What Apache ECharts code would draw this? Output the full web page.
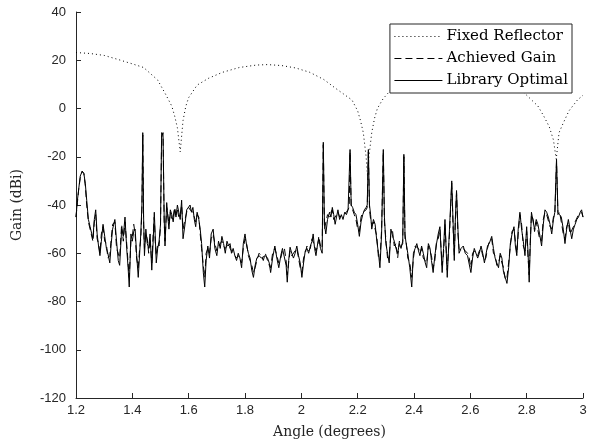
<!DOCTYPE html>
<html><head><meta charset="utf-8">
<script src="https://cdn.jsdelivr.net/npm/echarts@6/dist/echarts.min.js"></script>
<style>html,body{margin:0;padding:0;background:#fff}#c{width:590px;height:445px}</style>
</head><body><div id="c"></div>
<script>
const xTicks = [1.2,1.4,1.6,1.8,2,2.2,2.4,2.6,2.8,3];
const yTicks = [-120,-100,-80,-60,-40,-20,0,20,40];
const seriesNames = ['Fixed Reflector','Achieved Gain','Library Optimal'];

const fixedAngle = [1.20,1.25,1.30,1.35,1.40,1.44,1.49,1.52,1.54,1.55,1.56,1.57,1.58,1.59,1.60,1.63,1.67,1.72,1.78,1.84,1.88,1.93,1.98,2.03,2.08,2.12,2.15,2.18,2.20,2.21,2.22,2.23,2.235,2.24,2.25,2.26,2.27,2.29,2.32,2.36,2.42,2.50,2.58,2.66,2.72,2.76,2.80,2.84,2.86,2.88,2.895,2.905,2.915,2.93,2.95,2.98,3.00];
const fixedGain  = [23.2,22.8,22,20.3,18.5,17,11.8,5.5,1,-3,-8,-18,-5,1,4.5,9.7,12.5,15,17,18,18.2,17.8,16.8,15,12,8.5,6,3.5,-1,-5,-10,-20,-28,-20,-10,-4,0,4,8,12,15.5,17.5,18,17,13,9.5,5.5,1,-3,-7.5,-13,-21,-10,-6,-1,3.5,5.5];

const angle = [1.200,1.205,1.210,1.215,1.222,1.228,1.233,1.238,1.244,1.250,1.256,1.260,1.265,1.270,1.275,1.280,1.285,1.290,1.296,1.302,1.308,1.313,1.320,1.325,1.330,1.338,1.344,1.350,1.355,1.362,1.368,1.374,1.380,1.385,1.389,1.395,1.400,1.405,1.410,1.415,1.421,1.426,1.430,1.434,1.437,1.440,1.443,1.448,1.453,1.458,1.463,1.469,1.474,1.478,1.482,1.485,1.490,1.495,1.500,1.504,1.509,1.513,1.516,1.522,1.526,1.530,1.535,1.540,1.545,1.550,1.555,1.560,1.565,1.570,1.575,1.580,1.587,1.593,1.600,1.605,1.610,1.615,1.620,1.625,1.630,1.636,1.641,1.646,1.652,1.657,1.662,1.668,1.674,1.680,1.687,1.693,1.700,1.706,1.712,1.718,1.724,1.730,1.736,1.742,1.747,1.752,1.758,1.764,1.770,1.776,1.782,1.788,1.794,1.800,1.806,1.812,1.818,1.824,1.830,1.836,1.842,1.850,1.858,1.865,1.872,1.880,1.886,1.891,1.898,1.906,1.913,1.920,1.927,1.933,1.940,1.946,1.950,1.955,1.960,1.966,1.972,1.978,1.984,1.990,1.996,2.002,2.008,2.014,2.020,2.026,2.032,2.038,2.042,2.047,2.052,2.058,2.062,2.068,2.074,2.078,2.082,2.087,2.093,2.100,2.105,2.110,2.115,2.120,2.125,2.130,2.136,2.142,2.148,2.154,2.160,2.166,2.170,2.173,2.177,2.182,2.188,2.194,2.200,2.206,2.212,2.218,2.224,2.230,2.234,2.238,2.242,2.246,2.250,2.256,2.262,2.268,2.274,2.279,2.285,2.291,2.295,2.300,2.306,2.312,2.318,2.324,2.330,2.336,2.342,2.348,2.354,2.360,2.364,2.368,2.372,2.378,2.385,2.392,2.398,2.404,2.410,2.416,2.421,2.427,2.433,2.440,2.445,2.451,2.457,2.462,2.468,2.474,2.480,2.486,2.492,2.500,2.505,2.510,2.518,2.526,2.534,2.539,2.543,2.547,2.551,2.556,2.560,2.567,2.575,2.582,2.590,2.596,2.602,2.608,2.614,2.620,2.626,2.632,2.638,2.644,2.650,2.655,2.661,2.667,2.676,2.682,2.688,2.694,2.700,2.706,2.712,2.718,2.724,2.730,2.736,2.742,2.748,2.755,2.760,2.765,2.770,2.776,2.782,2.788,2.794,2.800,2.805,2.809,2.813,2.817,2.823,2.828,2.834,2.840,2.846,2.853,2.859,2.865,2.871,2.877,2.883,2.889,2.895,2.900,2.906,2.911,2.917,2.923,2.930,2.936,2.942,2.948,2.954,2.960,2.966,2.972,2.978,2.984,2.990,2.995,3.000];

const libraryOptimal = [-45,-38,-33,-28,-26,-27,-31,-38,-46,-49,-52,-54,-46,-42,-52,-57,-61,-55,-48,-53,-58,-60,-64,-56,-50,-46,-55,-63,-65,-50,-53,-45,-58,-66,-74,-52,-55,-51,-50,-60,-70,-60,-52,-40,-10,-45,-61,-50,-56,-58,-52,-67,-55,-43,-55,-64,-58,-55,-48,-10,-11,-45,-57,-39,-45,-50,-42,-44,-47,-42,-45,-40,-43,-46,-38,-54,-48,-42,-42,-40,-43,-41,-46,-49,-43,-46,-50,-56,-68,-74,-63,-57,-62,-52,-50,-58,-61,-55,-58,-53,-56,-60,-55,-57,-56,-60,-58,-61,-63,-60,-62,-66,-56,-52,-57,-60,-62,-67,-70,-65,-62,-61,-62,-62,-61,-62,-64,-68,-62,-57,-62,-66,-61,-58,-57.5,-65,-72,-63,-57.5,-60,-62,-60,-57,-61,-64,-70,-64,-59,-58,-60,-57,-55,-52,-58,-61,-56,-54,-58,-60,-14,-48,-52,-46,-43,-45,-41,-44,-48,-45,-42,-46,-44,-46,-43,-44,-42,-42,-17,-40,-41,-43,-44,-48,-53,-47,-44,-42,-41,-40,-17,-40,-44,-50,-46,-48,-55,-60,-66,-52,-17,-45,-56,-60,-64,-50,-53,-55,-58,-60,-56,-58,-55,-19,-52,-56,-60,-66,-74,-60,-58,-56,-59,-61,-57,-60,-64,-66,-56,-58,-63,-68,-61,-56,-52,-49,-68,-58,-46,-70,-50,-30,-48,-63,-45,-34,-50,-60,-58,-57,-60,-61,-61,-68,-62,-58,-58,-62,-60,-57,-60,-64,-64,-57,-56,-53,-58,-62,-64,-66,-60,-62,-68,-70,-72.5,-66,-56,-52,-49,-57,-61,-50,-43,-50,-55,-61,-49,-60,-72,-56,-43,-47,-50,-46,-48,-52,-57,-48,-42,-43,-45,-48,-52,-46,-43,-21,-43,-44,-45,-50,-56,-50,-46,-50,-54,-50,-48,-46,-45,-43,-42,-45];

const achievedGain = [-45,-39,-33,-29,-26,-27,-32,-40,-47,-50,-50,-55,-47,-44,-54,-56,-60,-52,-49,-55,-56,-62,-61,-54,-48,-47,-58,-60,-62,-48,-55,-47,-56,-64,-70,-55,-53,-48,-52,-62,-66,-58,-54,-42,-11,-48,-58,-52,-54,-60,-54,-64,-52,-45,-57,-61,-56,-57,-49,-12,-10,-47,-55,-41,-44,-48,-43,-46,-45,-41,-44,-42,-45,-44,-40,-50,-46,-43,-41,-42,-42,-43,-45,-47,-44,-45,-52,-58,-65,-70,-60,-58,-60,-54,-52,-56,-59,-57,-56,-55,-57,-58,-57,-56,-58,-59,-60,-60,-62,-61,-61,-64,-58,-54,-56,-61,-63,-65,-68,-66,-63,-60,-61,-63,-60,-63,-65,-66,-60,-58,-61,-64,-62,-59,-58,-63,-69,-64,-59,-61,-61,-59,-58,-62,-66,-68,-62,-60,-57,-59,-58,-54,-54,-57,-59,-57,-53,-57,-58,-15,-50,-50,-44,-45,-43,-42,-46,-46,-44,-43,-45,-45,-44,-44,-43,-43,-41,-18,-41,-42,-44,-46,-50,-51,-45,-43,-43,-42,-41,-18,-42,-46,-48,-47,-50,-53,-62,-63,-50,-18,-47,-54,-62,-61,-52,-51,-57,-56,-62,-55,-57,-56,-20,-54,-55,-62,-64,-70,-62,-57,-57,-58,-60,-58,-62,-62,-64,-57,-57,-61,-66,-63,-55,-54,-50,-65,-60,-48,-67,-52,-31,-50,-61,-46,-35,-52,-58,-59,-58,-59,-60,-62,-66,-60,-59,-60,-61,-59,-58,-61,-63,-62,-58,-55,-54,-60,-61,-65,-64,-61,-64,-66,-71,-70,-64,-57,-51,-50,-55,-60,-52,-44,-48,-57,-59,-51,-62,-69,-54,-44,-46,-51,-47,-47,-54,-55,-46,-43,-44,-44,-49,-50,-45,-44,-22,-44,-43,-47,-52,-54,-49,-47,-52,-52,-49,-47,-47,-44,-44,-43,-45];

const zip = (xs, ys) => xs.map((x, i) => [x, ys[i]]);
const axisColor = '#262626';
const chart = echarts.init(document.getElementById('c'), null, {renderer: 'canvas'});
chart.setOption({
  animation: false,
  backgroundColor: '#fff',
  grid: {left: 76, right: 7, top: 12, bottom: 47, containLabel: false},
  legend: {
    right: 18, top: 24, orient: 'vertical',
    data: seriesNames,
    itemWidth: 48, itemHeight: 10, itemGap: 7,
    padding: [5, 4, 5, 4],
    itemStyle: {opacity: 0},
    lineStyle: {width: 1},
    backgroundColor: '#fff', borderColor: axisColor, borderWidth: 1,
    textStyle: {fontFamily: 'DejaVu Serif', fontSize: 15, color: '#000', padding: [0,0,0,-1]}
  },
  xAxis: {
    type: 'value', min: 1.2, max: 3, interval: 0.2,
    axisLine: {show: true, onZero: false, lineStyle: {color: axisColor, width: 1}},
    axisTick: {show: true, inside: true, length: 5, lineStyle: {color: axisColor}},
    splitLine: {show: false},
    axisLabel: {color: axisColor, fontFamily: 'Liberation Sans', fontSize: 13, margin: 6,
      formatter: v => String(Math.round(v * 10) / 10)},
    name: 'Angle (degrees)', nameLocation: 'middle', nameGap: 27,
    nameTextStyle: {fontFamily: 'DejaVu Serif', fontSize: 14, color: axisColor}
  },
  yAxis: {
    type: 'value', min: -120, max: 40, interval: 20,
    axisLine: {show: true, onZero: false, lineStyle: {color: axisColor, width: 1}},
    axisTick: {show: true, inside: true, length: 5, lineStyle: {color: axisColor}},
    splitLine: {show: false},
    axisLabel: {color: axisColor, fontFamily: 'Liberation Sans', fontSize: 13, margin: 10},
    name: 'Gain (dBi)', nameLocation: 'middle', nameGap: 52,
    nameTextStyle: {fontFamily: 'DejaVu Serif', fontSize: 14, color: axisColor}
  },
  series: [
    {name: seriesNames[0], type: 'line', data: zip(fixedAngle, fixedGain), symbol: 'none', smooth: false,
     lineStyle: {color: '#000', width: 1, type: [1, 3]}, itemStyle: {color: '#000'}, z: 1},
    {name: seriesNames[1], type: 'line', data: zip(angle, achievedGain), symbol: 'none',
     lineStyle: {color: '#000', width: 1, type: [7, 4]}, itemStyle: {color: '#000'}, z: 2},
    {name: seriesNames[2], type: 'line', data: zip(angle, libraryOptimal), symbol: 'none',
     lineStyle: {color: '#000', width: 1, type: 'solid'}, itemStyle: {color: '#000'}, z: 3}
  ]
});
</script></body></html>
